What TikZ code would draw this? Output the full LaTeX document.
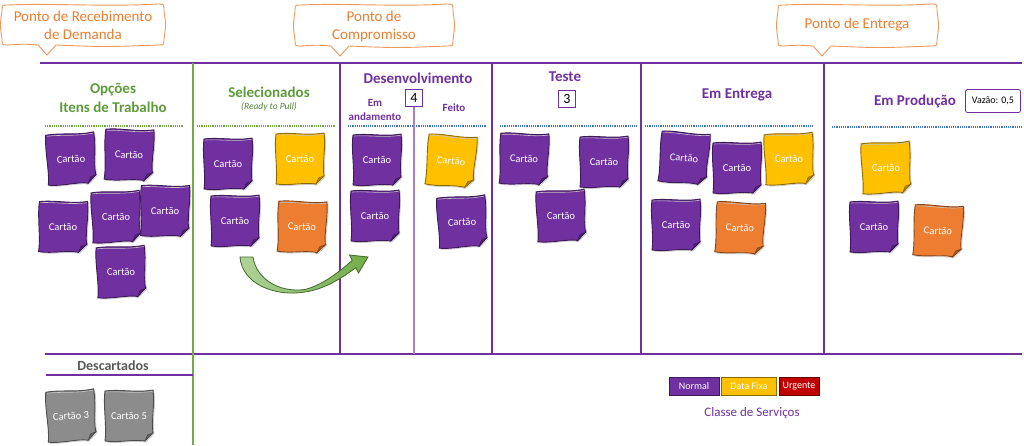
\documentclass[tikz,border=0pt]{standalone}
\usepackage{fontspec}
\setmainfont{Carlito}
\usetikzlibrary{calc}
\definecolor{kpurple}{HTML}{7030A0}
\definecolor{kgreen}{HTML}{70AD47}
\definecolor{kgreentext}{HTML}{5E9C3A}
\definecolor{kblue}{HTML}{4472C4}
\definecolor{korange}{HTML}{ED7D31}
\definecolor{kyellow}{HTML}{FFC000}
\definecolor{kred}{HTML}{C00000}
\definecolor{kgray}{HTML}{8C8C8C}
\definecolor{klightpurple}{HTML}{A77FCB}
\newcommand\kcard[6]{%
  \begin{scope}[shift={(#2,#3)},rotate=#4]
    \fill[#5] (-24,-25) .. controls (-8,-27) and (8,-23) .. (24,-26)
      .. controls (26,-10) and (22,5) .. (24,17) -- (16,25)
      .. controls (4,23) and (-10,27) .. (-24,25)
      .. controls (-22,10) and (-26,-10) .. (-24,-25) -- cycle;
    \draw[gray!45,line width=0.6pt] (-23,-24) .. controls (-8,-25) and (8,-22) .. (25,-25)
      .. controls (27,-10) and (23,5) .. (25,18) -- (17,26)
      .. controls (4,24) and (-10,28) .. (-23,26);
    \draw[cardline,draw=#5!55!black] (-24,-25) .. controls (-8,-27) and (8,-23) .. (24,-26)
      .. controls (26,-10) and (22,5) .. (24,17) -- (16,25)
      .. controls (4,23) and (-10,27) .. (-24,25)
      .. controls (-22,10) and (-26,-10) .. (-24,-25) -- cycle;
    \filldraw[fill=#5!70!black,draw=#5!55!black,line width=0.6pt] (24,17) -- (16,25) -- (18.5,19) -- cycle;
  \end{scope}
  \node[cardtext,rotate=#4] (#1) at (#2,#3) {#6};
}
\newcommand\bubble[5]{%
  \draw[callout] ({#1+6},{#2}) .. controls ({#1+0.3*(#3-#1)},{#2-2}) and ({#1+0.65*(#3-#1)},{#2+2}) .. ({#3-6},{#2-1})
    .. controls ({#3},{#2-1}) .. ({#3},{#2+6})
    .. controls ({#3+2},{0.5*(#2+#4)}) .. ({#3},{#4-6})
    .. controls ({#3},{#4}) .. ({#3-6},{#4})
    .. controls ({0.5*(#3+#5)},{#4+2}) .. ({#5+9},{#4})
    -- ({#5},{#4+10}) -- ({#5-9},{#4})
    .. controls ({0.5*(#1+#5)},{#4-1}) .. ({#1+6},{#4})
    .. controls ({#1},{#4}) .. ({#1},{#4-6})
    .. controls ({#1-2},{0.5*(#2+#4)}) .. ({#1},{#2+6})
    .. controls ({#1},{#2}) .. ({#1+6},{#2}) -- cycle;
}
\begin{document}
\begin{tikzpicture}[x=1pt,y=-1pt,
  callout/.style={draw=korange!80,line width=0.9pt,fill=white},
  callouttext/.style={text=korange,font=\fontsize{15}{18}\selectfont,align=center},
  mainline/.style={draw=kpurple,line width=2.2pt},
  colline/.style={draw=kpurple,line width=1.8pt},
  greenline/.style={draw=kgreen,line width=1.8pt},
  subline/.style={draw=klightpurple,line width=1.1pt},
  gdots/.style={draw=kgreen,line width=1.6pt,dash pattern=on 1.1pt off 1.1pt},
  bdots/.style={draw=kblue,line width=1.6pt,dash pattern=on 1.1pt off 1.1pt},
  ghead/.style={text=kgreentext,font=\fontsize{15}{19}\selectfont\bfseries,align=center},
  phead/.style={text=kpurple,font=\fontsize{15}{19}\selectfont\bfseries,align=center},
  psub/.style={text=kpurple,font=\fontsize{11}{14}\selectfont\bfseries,align=center},
  wipbox/.style={draw=kpurple,line width=0.8pt,fill=white,minimum width=17pt,minimum height=17pt,inner sep=0pt,font=\fontsize{14}{14}\selectfont},
  cardline/.style={line width=0.9pt},
  cardtext/.style={text=white,font=\fontsize{10.5}{12}\selectfont},
  legbox/.style={text=white,font=\fontsize{10}{11}\selectfont,minimum height=18pt,inner sep=1pt,draw=#1!55!black,fill=#1,line width=0.7pt},
  garrow/.style={draw=kgreen!60!black,line width=0.8pt,left color=kgreen!55,right color=kgreen}
]
\useasboundingbox (0,0) rectangle (1024,445);
\fill[white] (0,0) rectangle (1024,445);

% callouts
\bubble{2}{5}{164}{45}{47}
\node[callouttext] (cb1) at (83,25) {Ponto de Recebimento\\de Demanda};
\bubble{295}{5}{453}{46}{340}
\node[callouttext] (cb2) at (374,26) {Ponto de\\Compromisso};
\bubble{778}{5}{937}{46}{822}
\node[callouttext] (cb3) at (857,25) {Ponto de Entrega};

% board lines
\coordinate (tl) at (40,63);
\coordinate (tr) at (1022,63);
\draw[mainline] (tl) -- (tr);
\coordinate (ml) at (45,354);
\coordinate (mr) at (1022,354);
\draw[mainline] (ml) -- (mr);
\coordinate (v1t) at (193,63);
\coordinate (v1b) at (193,445);
\draw[greenline] (v1t) -- (v1b);
\foreach \xx/\nm in {340/a,492/b,641/c,824/d}{
  \coordinate (v\nm t) at (\xx,63);
  \coordinate (v\nm b) at (\xx,354);
  \draw[colline] (v\nm t) -- (v\nm b);
}
\coordinate (dl) at (46,375);
\coordinate (dr) at (193,375);
\draw[colline] (dl) -- (dr);

% dotted separators
\draw[gdots] (45,126) -- (183,126);
\draw[gdots] (197,126) -- (335,126);
\draw[bdots] (348,126) -- (486,126);
\draw[bdots] (500,126) -- (637,126);
\draw[bdots] (645,126) -- (813,126);
\draw[bdots] (832,127) -- (1022,127);

% headers
\node[ghead] (h1) at (113,98) {Opções\\Itens de Trabalho};
\node[ghead] (h2) at (269,92) {Selecionados};
\node[text=kgreentext!85!black,font=\fontsize{9.5}{10}\selectfont\itshape] (h2b) at (269,107) {(Ready to Pull)};
\node[phead] (h3) at (418,78) {Desenvolvimento};
\node[psub] (h3a) at (375,110) {Em\\andamento};
\node[psub] (h3b) at (454,108) {Feito};
\node[wipbox] (w4) at (414,98) {4};
\coordinate (subb) at (414,354);
\draw[subline] (w4.south) -- (subb);
\node[phead] (h4) at (565,77) {Teste};
\node[wipbox] (w3) at (567,99) {3};
\node[phead] (h5) at (737,95) {Em Entrega};
\node[phead] (h6) at (915,101) {Em Produção};
\node[draw=kpurple,line width=0.8pt,rounded corners=2pt,minimum width=55pt,minimum height=23pt,inner sep=1pt,font=\fontsize{10}{11}\selectfont] (vz) at (993,101) {Vazão: 0,5};
\node[text=black!65,font=\fontsize{14}{16}\selectfont\bfseries] (h7) at (113,366) {Descartados};

% cards
\kcard{o1}{71}{159}{3}{kpurple}{Cartão}
\kcard{o2}{129}{155}{-2}{kpurple}{Cartão}
\kcard{o3}{63}{227}{-1}{kpurple}{Cartão}
\kcard{o4}{116}{217}{2}{kpurple}{Cartão}
\kcard{o5}{165}{211}{-1}{kpurple}{Cartão}
\kcard{o6}{121}{272}{2}{kpurple}{Cartão}
\kcard{s1}{228}{164}{0}{kpurple}{Cartão}
\kcard{s2}{300}{159}{0}{kyellow}{Cartão}
\kcard{s3}{235}{221}{0}{kpurple}{Cartão}
\kcard{s4}{302}{227}{-2}{korange}{Cartão}
\kcard{d1}{377}{160}{0}{kpurple}{Cartão}
\kcard{d2}{375}{216}{0}{kpurple}{Cartão}
\kcard{d3}{451}{161}{-5}{kyellow}{Cartão}
\kcard{d4}{462}{222}{3}{kpurple}{Cartão}
\kcard{t1}{524}{159}{-2}{kpurple}{Cartão}
\kcard{t2}{604}{162}{0}{kpurple}{Cartão}
\kcard{t3}{561}{216}{2}{kpurple}{Cartão}
\kcard{e1}{684}{158}{-5}{kpurple}{Cartão}
\kcard{e2}{737}{168}{0}{kpurple}{Cartão}
\kcard{e3}{789}{159}{2}{kyellow}{Cartão}
\kcard{e4}{676}{225}{0}{kpurple}{Cartão}
\kcard{e5}{740}{228}{-3}{korange}{Cartão}
\kcard{p1}{886}{168}{2}{kyellow}{Cartão}
\kcard{p2}{874}{227}{0}{kpurple}{Cartão}
\kcard{p3}{938}{231}{-3}{korange}{Cartão}
\kcard{g1}{71}{416}{3}{kgray}{Cartão 3}
\kcard{g2}{129}{416}{0}{kgray}{Cartão 5}

% pull arrow
\draw[garrow] (240,257) .. controls (242,284) and (275,297) .. (305,292)
  .. controls (325,289) and (342,278) .. (355.8,267.6) -- (358.5,273) -- (368,257)
  -- (349.5,255) -- (352.2,260.4) .. controls (338,273) and (322,285) .. (305,289.5)
  .. controls (278,293) and (256,278) .. (253,257) -- cycle;

% legend
\node[legbox=kpurple,minimum width=50pt] (ln) at (694,386) {Normal};
\node[legbox=kyellow,minimum width=55pt] (ld) at (749,386) {Data Fixa};
\node[legbox=kred,minimum width=40pt] (lu) at (799,386) {Urgente};
\node[text=kpurple,font=\fontsize{13}{15}\selectfont] (lc) at (752,413) {Classe de Serviços};
\end{tikzpicture}
\end{document}
